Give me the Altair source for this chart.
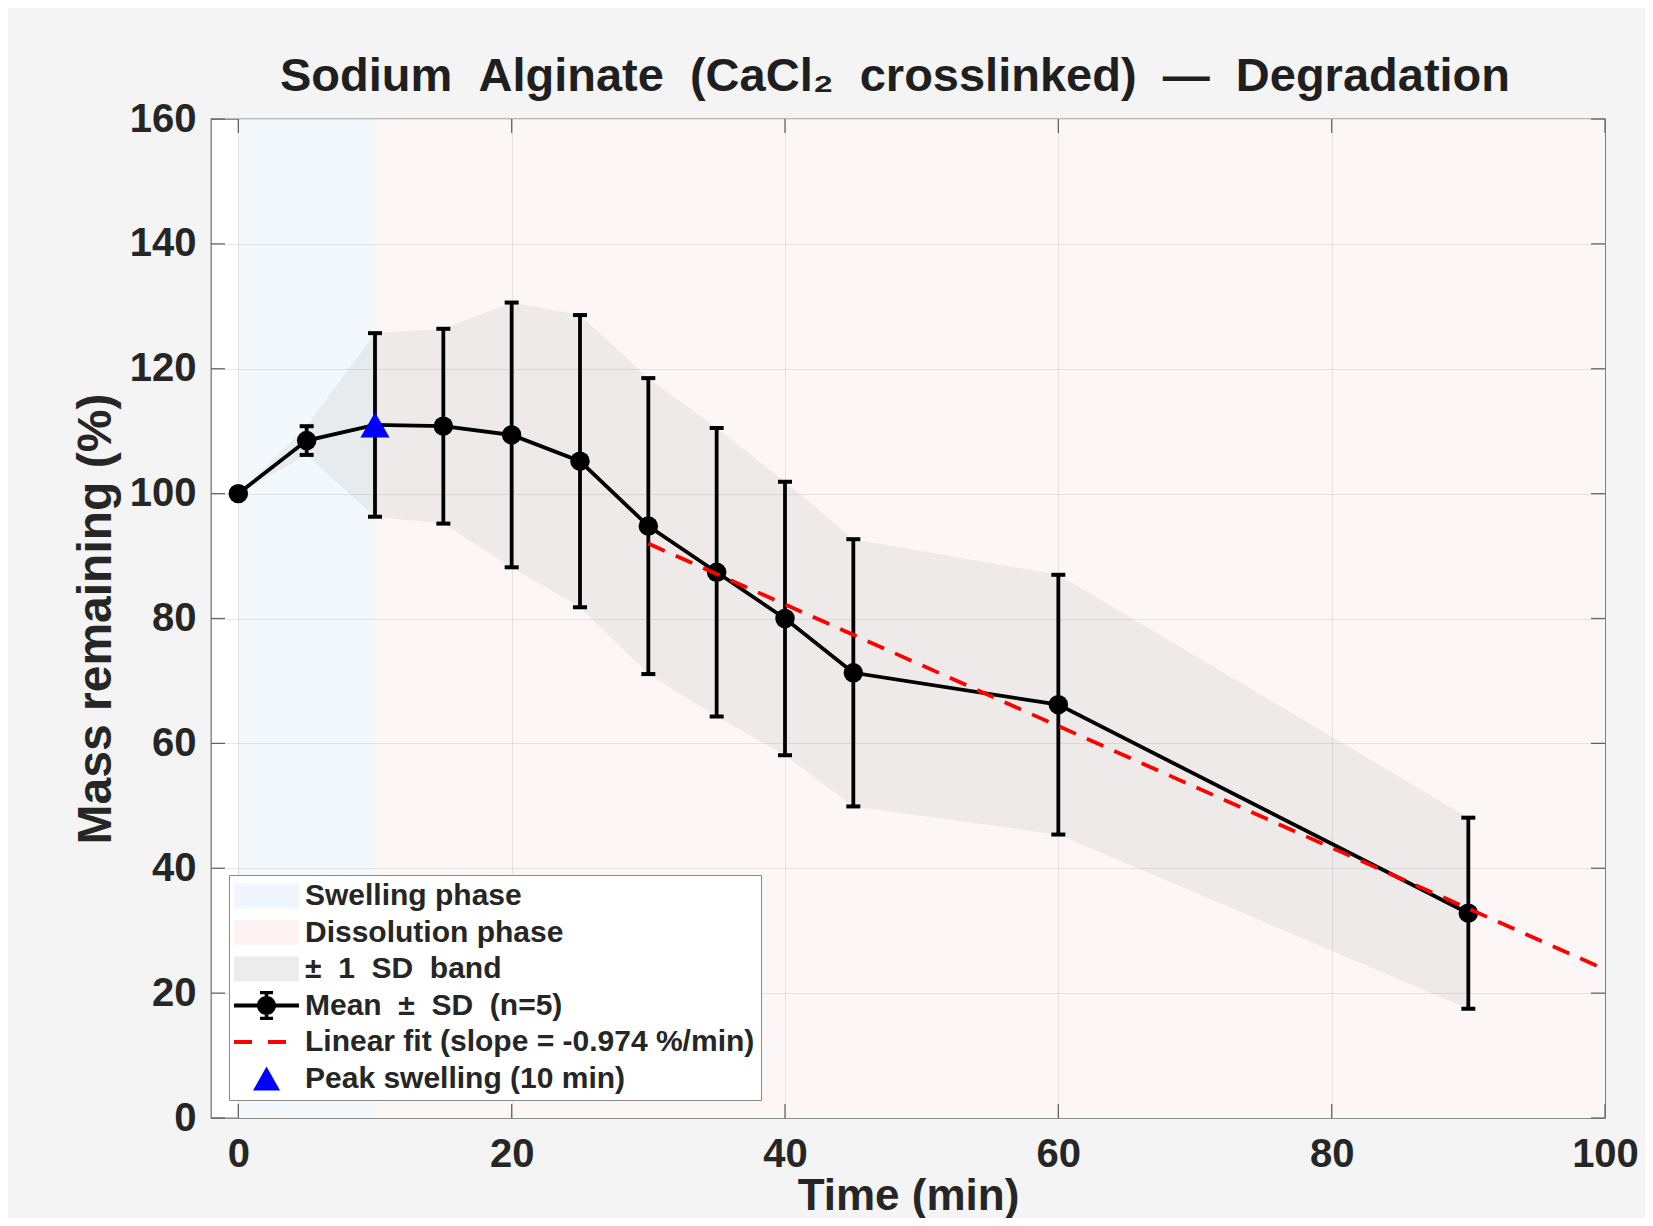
import altair as alt
import pandas as pd

# ---------------- data ----------------
time_min = [0, 5, 10, 15, 20, 25, 30, 35, 40, 45, 60, 90]
mean_pct = [100.0, 108.5, 111.0, 110.8, 109.4, 105.2, 94.8, 87.4, 80.0, 71.3, 66.2, 32.8]
sd_pct = [0.0, 2.3, 14.7, 15.6, 21.2, 23.4, 23.7, 23.1, 21.9, 21.4, 20.8, 15.3]

phase_names = ["Swelling phase", "Dissolution phase"]
phase_start = [0, 10]
phase_end = [10, 100]

fit_time = [30, 100]
fit_pct = [92.0, 23.8]

peak_time = [10]
peak_pct = [111.0]

x_ticks = [0, 20, 40, 60, 80, 100]
y_ticks = [0, 20, 40, 60, 80, 100, 120, 140, 160]

legend_labels = [
    "Swelling phase",
    "Dissolution phase",
    "\u00b1 \u00a01 \u00a0SD \u00a0band",
    "Mean \u00a0\u00b1 \u00a0SD \u00a0(n=5)",
    "Linear fit (slope = -0.974 %/min)",
    "Peak swelling (10 min)",
]
legend_colors = ["#eff6fd", "#fdf3f3", "#ececec", "#000000", "#ff0000", "#0000ff"]
legend_paths = [
    "M-1.6,-1.25L4.9,-1.25L4.9,1.25L-1.6,1.25Z",
    "M-1.6,-1.25L4.9,-1.25L4.9,1.25L-1.6,1.25Z",
    "M-1.6,-1.25L4.9,-1.25L4.9,1.25L-1.6,1.25Z",
    "M-1.6,-0.19L4.9,-0.19L4.9,0.19L-1.6,0.19Z"
    "M1.47,-1.45L1.83,-1.45L1.83,1.45L1.47,1.45Z"
    "M1.0,-1.45L2.3,-1.45L2.3,-1.12L1.0,-1.12Z"
    "M1.0,1.12L2.3,1.12L2.3,1.45L1.0,1.45Z"
    "M0.7,0A0.95,0.95 0 1,1 2.6,0A0.95,0.95 0 1,1 0.7,0Z",
    "M-1.6,-0.19L0.2,-0.19L0.2,0.19L-1.6,0.19Z"
    "M1.8,-0.19L3.6,-0.19L3.6,0.19L1.8,0.19Z",
    "M1.65,-1.2L3.0,1.2L0.3,1.2Z",
]

# ---------------- frames ----------------
df = pd.DataFrame({"time": time_min, "mean": mean_pct, "sd": sd_pct})
phase_df = pd.DataFrame({"phase": phase_names, "start": phase_start, "end": phase_end})
fit_df = pd.DataFrame({"time": fit_time, "val": fit_pct})
peak_df = pd.DataFrame({"time": peak_time, "val": peak_pct})
xt_df = pd.DataFrame({"v": x_ticks})
yt_df = pd.DataFrame({"v": y_ticks})
legend_df = pd.DataFrame({"entry": legend_labels})

# ---------------- style ----------------
W, H = 1394, 999
FONT = "Liberation Sans"
TXT = "#262626"
TL = 14

xs = alt.Scale(domain=[-2, 100], nice=False, zero=False)
ys = alt.Scale(domain=[0, 160], nice=False, zero=False)

common_axis = dict(
    format="d", grid=True, ticks=False, tickSize=0, domain=False,
    labelFontSize=40, labelFont=FONT, labelFontWeight="bold", labelColor=TXT,
    labelFlush=False, labelOverlap=False,
    titleFont=FONT, titleFontWeight="bold", titleColor=TXT,
    titleBaseline="alphabetic",
    gridColor="#262626", gridOpacity=0.1, gridWidth=1, zindex=1,
)
x_axis = alt.Axis(values=x_ticks, title="Time (min)", labelPadding=16, titleFontSize=44,
                  titleX=W / 2, titleY=91, **common_axis)
y_axis = alt.Axis(values=y_ticks, title="Mass remaining (%)", labelPadding=15, titleFontSize=48,
                  titleX=-101, titleY=H / 2, titleAngle=270, **common_axis)


def X(f):
    return alt.X(f"{f}:Q", scale=xs, axis=x_axis)


def Y(f):
    return alt.Y(f"{f}:Q", scale=ys, axis=y_axis)


phases = alt.Chart(phase_df).mark_rect(opacity=1).encode(
    x=X("start"),
    x2="end:Q",
    y=alt.Y(datum=y_ticks[0], type="quantitative", scale=ys, axis=y_axis),
    y2=alt.Y2(datum=y_ticks[-1]),
    fill=alt.Fill("phase:N", scale=alt.Scale(domain=phase_names, range=["#f3f8fd", "#fdf6f6"]), legend=None),
)

base = alt.Chart(df).transform_calculate(lo="datum.mean - datum.sd", hi="datum.mean + datum.sd")

band = base.mark_area(color="#dcdcdc", opacity=0.45).encode(x=X("time"), y=Y("lo"), y2="hi:Q")

err = base.transform_filter("datum.sd > 0").mark_rule(color="black", strokeWidth=3.8).encode(
    x=X("time"), y=Y("lo"), y2="hi:Q")
cap_lo = base.transform_filter("datum.sd > 0").mark_tick(
    orient="horizontal", size=14, thickness=4, color="black", opacity=1).encode(x=X("time"), y=Y("lo"))
cap_hi = base.transform_filter("datum.sd > 0").mark_tick(
    orient="horizontal", size=14, thickness=4, color="black", opacity=1).encode(x=X("time"), y=Y("hi"))

line = base.mark_line(color="black", strokeWidth=3.8).encode(x=X("time"), y=Y("mean"))
pts = base.transform_filter(f"datum.time != {peak_time[0]}").mark_point(
    filled=True, size=380, color="black", opacity=1).encode(x=X("time"), y=Y("mean"))

fit = alt.Chart(fit_df).mark_line(color="#ff0000", strokeWidth=3.8, strokeDash=[18, 12]).encode(
    x=X("time"), y=Y("val"))

peak = alt.Chart(peak_df).mark_point(shape="triangle-up", filled=True, size=850, color="#0000ff",
                                     opacity=1).encode(x=X("time"), y=Y("val"))

tick_style = dict(color="#6b6b6b", strokeWidth=1.3)
xb = alt.Chart(xt_df).mark_rule(**tick_style).encode(x=X("v"), y=alt.value(H), y2=alt.value(H - TL))
xtop = alt.Chart(xt_df).mark_rule(**tick_style).encode(x=X("v"), y=alt.value(0), y2=alt.value(TL))
yl = alt.Chart(yt_df).mark_rule(**tick_style).encode(y=Y("v"), x=alt.value(0), x2=alt.value(TL))
yr = alt.Chart(yt_df).mark_rule(**tick_style).encode(y=Y("v"), x=alt.value(W), x2=alt.value(W - TL))

leg = alt.Legend(
    title=None, orient="none", legendX=18, legendY=756, fillColor="white", strokeColor="#8a8a8a",
    padding=6, labelFont=FONT, labelFontSize=30, labelFontWeight="bold", labelColor=TXT,
    labelOffset=40, labelLimit=900, symbolSize=400, symbolStrokeWidth=0, symbolOpacity=1,
    rowPadding=6.5, offset=0, zindex=2,
)
legend_layer = alt.Chart(legend_df).mark_point(filled=True, opacity=0).encode(
    color=alt.Color("entry:N", scale=alt.Scale(domain=legend_labels, range=legend_colors), legend=leg),
    shape=alt.Shape("entry:N", scale=alt.Scale(domain=legend_labels, range=legend_paths), legend=leg),
)

title = alt.TitleParams(
    text="Sodium \u00a0Alginate \u00a0(CaCl\u2082 \u00a0crosslinked) \u00a0\u2014 \u00a0Degradation",
    font=FONT, fontSize=47, fontWeight="bold", color="#1f1f1f", anchor="middle", frame="group",
    offset=16, dx=-13, dy=18,
)

chart = alt.layer(
    phases, band, err, cap_lo, cap_hi, line, pts, fit, peak, xb, xtop, yl, yr, legend_layer
).properties(
    width=W, height=H, title=title,
    autosize=alt.AutoSizeParams(type="none"),
    padding={"left": 203, "top": 111, "right": 40, "bottom": 100},
    background="#f4f4f4",
    view=alt.ViewBackground(fill="white", stroke="#7a7a7a", strokeWidth=1.3),
).configure_view(fill="white", stroke="#7a7a7a", strokeWidth=1.3)

chart.save("out.html", embed_options={"renderer": "svg", "actions": False})
